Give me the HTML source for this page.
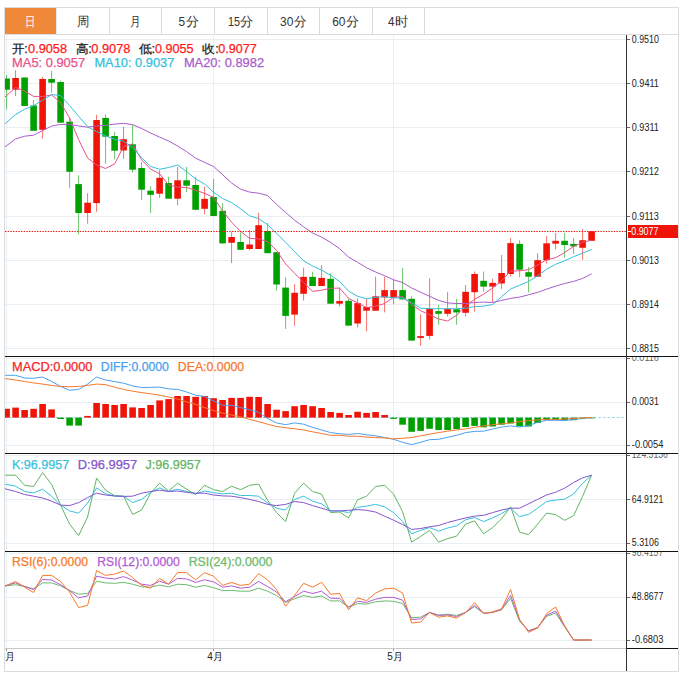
<!DOCTYPE html><html><head><meta charset="utf-8"><style>html,body{margin:0;padding:0;background:#fff;width:680px;height:679px;overflow:hidden}svg{display:block;font-family:"Liberation Sans",sans-serif}</style></head><body>
<svg width="680" height="679" viewBox="0 0 680 679">
<defs><clipPath id="cm"><rect x="5" y="35" width="621" height="321"/></clipPath><clipPath id="cmac"><rect x="5" y="357" width="621" height="96"/></clipPath><clipPath id="ckdj"><rect x="5" y="454" width="621" height="97"/></clipPath><clipPath id="crsi"><rect x="5" y="552" width="621" height="96"/></clipPath><clipPath id="cax"><rect x="627" y="0" width="51" height="679"/></clipPath></defs>
<g shape-rendering="crispEdges">
<rect x="4.5" y="7.5" width="674" height="664" fill="#fff" stroke="#dcdcdc" stroke-width="1"/>
<rect x="5" y="8" width="51" height="26" fill="#f0883a"/>
<line x1="56.5" y1="8" x2="56.5" y2="34" stroke="#e4e8ec" stroke-width="1"/>
<line x1="109.5" y1="8" x2="109.5" y2="34" stroke="#d8d8d8" stroke-width="1"/>
<line x1="161.5" y1="8" x2="161.5" y2="34" stroke="#d8d8d8" stroke-width="1"/>
<line x1="214.0" y1="8" x2="214.0" y2="34" stroke="#d8d8d8" stroke-width="1"/>
<line x1="267.0" y1="8" x2="267.0" y2="34" stroke="#d8d8d8" stroke-width="1"/>
<line x1="319.5" y1="8" x2="319.5" y2="34" stroke="#d8d8d8" stroke-width="1"/>
<line x1="372.0" y1="8" x2="372.0" y2="34" stroke="#d8d8d8" stroke-width="1"/>
<line x1="424.5" y1="8" x2="424.5" y2="34" stroke="#d8d8d8" stroke-width="1"/>
<line x1="5" y1="34.5" x2="678" y2="34.5" stroke="#dcdcdc" stroke-width="1"/>
</g>
<text x="25.2" y="26.0" font-size="12.5" fill="#fff" textLength="10.3" lengthAdjust="spacingAndGlyphs">日</text>
<text x="76.9" y="26.0" font-size="12.5" fill="#333" textLength="12.4" lengthAdjust="spacingAndGlyphs">周</text>
<text x="129.9" y="26.0" font-size="12.5" fill="#333" textLength="10.6" lengthAdjust="spacingAndGlyphs">月</text>
<text x="178.5" y="26.0" font-size="13" fill="#333" textLength="6.6" lengthAdjust="spacingAndGlyphs">5</text>
<text x="185.5" y="26.0" font-size="12.5" fill="#333" textLength="13.0" lengthAdjust="spacingAndGlyphs">分</text>
<text x="228.0" y="26.0" font-size="13" fill="#333" textLength="12.0" lengthAdjust="spacingAndGlyphs">15</text>
<text x="240.0" y="26.0" font-size="12.5" fill="#333" textLength="13.1" lengthAdjust="spacingAndGlyphs">分</text>
<text x="280.1" y="26.0" font-size="13" fill="#333" textLength="13.3" lengthAdjust="spacingAndGlyphs">30</text>
<text x="294.2" y="26.0" font-size="12.5" fill="#333" textLength="12.5" lengthAdjust="spacingAndGlyphs">分</text>
<text x="332.2" y="26.0" font-size="13" fill="#333" textLength="13.3" lengthAdjust="spacingAndGlyphs">60</text>
<text x="346.3" y="26.0" font-size="12.5" fill="#333" textLength="13.0" lengthAdjust="spacingAndGlyphs">分</text>
<text x="388.0" y="26.0" font-size="13" fill="#333" textLength="6.5" lengthAdjust="spacingAndGlyphs">4</text>
<text x="395.0" y="26.0" font-size="12.5" fill="#333" textLength="13.4" lengthAdjust="spacingAndGlyphs">时</text>
<g shape-rendering="crispEdges" stroke="#e8eff4" stroke-width="1">
<line x1="5" y1="39.5" x2="626" y2="39.5"/>
<line x1="5" y1="83.5" x2="626" y2="83.5"/>
<line x1="5" y1="127.5" x2="626" y2="127.5"/>
<line x1="5" y1="171.5" x2="626" y2="171.5"/>
<line x1="5" y1="216.5" x2="626" y2="216.5"/>
<line x1="5" y1="260.5" x2="626" y2="260.5"/>
<line x1="5" y1="304.5" x2="626" y2="304.5"/>
<line x1="5" y1="348.5" x2="626" y2="348.5"/>
<line x1="5" y1="358.5" x2="626" y2="358.5"/>
<line x1="5" y1="402.5" x2="626" y2="402.5"/>
<line x1="5" y1="445.5" x2="626" y2="445.5"/>
<line x1="5" y1="455.5" x2="626" y2="455.5"/>
<line x1="5" y1="499.5" x2="626" y2="499.5"/>
<line x1="5" y1="543.5" x2="626" y2="543.5"/>
<line x1="5" y1="553.5" x2="626" y2="553.5"/>
<line x1="5" y1="597.5" x2="626" y2="597.5"/>
<line x1="5" y1="640.5" x2="626" y2="640.5"/>
<line x1="6.5" y1="35" x2="6.5" y2="648"/>
<line x1="213.5" y1="35" x2="213.5" y2="648"/>
<line x1="393.5" y1="35" x2="393.5" y2="648"/>
</g>
<g clip-path="url(#cm)">
<line x1="6.6" y1="75.0" x2="6.6" y2="109.5" stroke="#00a000" stroke-width="1" stroke-opacity="0.6"/>
<rect x="3.30" y="78.5" width="6.6" height="11.2" fill="#00a000"/>
<line x1="15.6" y1="70.2" x2="15.6" y2="96.2" stroke="#f01408" stroke-width="1" stroke-opacity="0.6"/>
<rect x="12.30" y="78.0" width="6.6" height="11.7" fill="#f01408"/>
<line x1="24.6" y1="77.5" x2="24.6" y2="106.0" stroke="#00a000" stroke-width="1" stroke-opacity="0.6"/>
<rect x="21.30" y="77.5" width="6.6" height="28.5" fill="#00a000"/>
<line x1="33.6" y1="100.0" x2="33.6" y2="130.8" stroke="#00a000" stroke-width="1" stroke-opacity="0.6"/>
<rect x="30.30" y="105.5" width="6.6" height="25.3" fill="#00a000"/>
<line x1="42.6" y1="76.8" x2="42.6" y2="138.6" stroke="#f01408" stroke-width="1" stroke-opacity="0.6"/>
<rect x="39.30" y="79.0" width="6.6" height="50.8" fill="#f01408"/>
<line x1="51.6" y1="70.9" x2="51.6" y2="92.7" stroke="#00a000" stroke-width="1" stroke-opacity="0.6"/>
<rect x="48.30" y="79.0" width="6.6" height="3.7" fill="#00a000"/>
<line x1="60.6" y1="80.5" x2="60.6" y2="122.7" stroke="#00a000" stroke-width="1" stroke-opacity="0.6"/>
<rect x="57.30" y="82.0" width="6.6" height="40.7" fill="#00a000"/>
<line x1="69.6" y1="118.0" x2="69.6" y2="188.2" stroke="#00a000" stroke-width="1" stroke-opacity="0.6"/>
<rect x="66.30" y="121.7" width="6.6" height="50.1" fill="#00a000"/>
<line x1="78.6" y1="175.3" x2="78.6" y2="234.4" stroke="#00a000" stroke-width="1" stroke-opacity="0.6"/>
<rect x="75.30" y="184.1" width="6.6" height="28.9" fill="#00a000"/>
<line x1="87.6" y1="193.2" x2="87.6" y2="223.7" stroke="#f01408" stroke-width="1" stroke-opacity="0.6"/>
<rect x="84.30" y="202.7" width="6.6" height="10.3" fill="#f01408"/>
<line x1="96.6" y1="114.8" x2="96.6" y2="211.8" stroke="#f01408" stroke-width="1" stroke-opacity="0.6"/>
<rect x="93.30" y="120.0" width="6.6" height="83.1" fill="#f01408"/>
<line x1="105.6" y1="114.4" x2="105.6" y2="163.5" stroke="#00a000" stroke-width="1" stroke-opacity="0.6"/>
<rect x="102.30" y="117.9" width="6.6" height="18.8" fill="#00a000"/>
<line x1="114.6" y1="132.0" x2="114.6" y2="159.4" stroke="#00a000" stroke-width="1" stroke-opacity="0.6"/>
<rect x="111.30" y="136.0" width="6.6" height="14.7" fill="#00a000"/>
<line x1="123.6" y1="126.8" x2="123.6" y2="158.8" stroke="#f01408" stroke-width="1" stroke-opacity="0.6"/>
<rect x="120.30" y="139.2" width="6.6" height="11.3" fill="#f01408"/>
<line x1="132.6" y1="124.7" x2="132.6" y2="172.6" stroke="#00a000" stroke-width="1" stroke-opacity="0.6"/>
<rect x="129.30" y="144.3" width="6.6" height="25.4" fill="#00a000"/>
<line x1="141.6" y1="161.9" x2="141.6" y2="200.0" stroke="#00a000" stroke-width="1" stroke-opacity="0.6"/>
<rect x="138.30" y="168.0" width="6.6" height="21.7" fill="#00a000"/>
<line x1="150.6" y1="186.2" x2="150.6" y2="213.0" stroke="#00a000" stroke-width="1" stroke-opacity="0.6"/>
<rect x="147.30" y="190.7" width="6.6" height="4.1" fill="#00a000"/>
<line x1="159.6" y1="170.2" x2="159.6" y2="197.8" stroke="#f01408" stroke-width="1" stroke-opacity="0.6"/>
<rect x="156.30" y="177.8" width="6.6" height="15.9" fill="#f01408"/>
<line x1="168.6" y1="176.8" x2="168.6" y2="198.7" stroke="#00a000" stroke-width="1" stroke-opacity="0.6"/>
<rect x="165.30" y="183.0" width="6.6" height="15.7" fill="#00a000"/>
<line x1="177.6" y1="166.9" x2="177.6" y2="205.3" stroke="#f01408" stroke-width="1" stroke-opacity="0.6"/>
<rect x="174.30" y="180.3" width="6.6" height="18.4" fill="#f01408"/>
<line x1="186.6" y1="166.9" x2="186.6" y2="192.3" stroke="#00a000" stroke-width="1" stroke-opacity="0.6"/>
<rect x="183.30" y="180.3" width="6.6" height="5.4" fill="#00a000"/>
<line x1="195.6" y1="176.8" x2="195.6" y2="210.0" stroke="#00a000" stroke-width="1" stroke-opacity="0.6"/>
<rect x="192.30" y="185.0" width="6.6" height="24.8" fill="#00a000"/>
<line x1="204.6" y1="186.7" x2="204.6" y2="214.3" stroke="#f01408" stroke-width="1" stroke-opacity="0.6"/>
<rect x="201.30" y="198.9" width="6.6" height="9.9" fill="#f01408"/>
<line x1="213.6" y1="178.9" x2="213.6" y2="216.0" stroke="#00a000" stroke-width="1" stroke-opacity="0.6"/>
<rect x="210.30" y="197.0" width="6.6" height="19.0" fill="#00a000"/>
<line x1="222.6" y1="203.2" x2="222.6" y2="243.4" stroke="#00a000" stroke-width="1" stroke-opacity="0.6"/>
<rect x="219.30" y="210.8" width="6.6" height="32.6" fill="#00a000"/>
<line x1="231.6" y1="232.0" x2="231.6" y2="263.0" stroke="#f01408" stroke-width="1" stroke-opacity="0.6"/>
<rect x="228.30" y="237.0" width="6.6" height="5.8" fill="#f01408"/>
<line x1="240.6" y1="232.5" x2="240.6" y2="249.8" stroke="#00a000" stroke-width="1" stroke-opacity="0.6"/>
<rect x="237.30" y="242.0" width="6.6" height="7.8" fill="#00a000"/>
<line x1="249.6" y1="229.9" x2="249.6" y2="250.5" stroke="#f01408" stroke-width="1" stroke-opacity="0.6"/>
<rect x="246.30" y="244.5" width="6.6" height="4.5" fill="#f01408"/>
<line x1="258.6" y1="212.8" x2="258.6" y2="249.0" stroke="#f01408" stroke-width="1" stroke-opacity="0.6"/>
<rect x="255.30" y="225.2" width="6.6" height="23.8" fill="#f01408"/>
<line x1="267.6" y1="223.1" x2="267.6" y2="253.0" stroke="#00a000" stroke-width="1" stroke-opacity="0.6"/>
<rect x="264.30" y="231.0" width="6.6" height="22.2" fill="#00a000"/>
<line x1="276.6" y1="252.0" x2="276.6" y2="290.7" stroke="#00a000" stroke-width="1" stroke-opacity="0.6"/>
<rect x="273.30" y="252.2" width="6.6" height="32.3" fill="#00a000"/>
<line x1="285.6" y1="277.3" x2="285.6" y2="328.9" stroke="#00a000" stroke-width="1" stroke-opacity="0.6"/>
<rect x="282.30" y="287.6" width="6.6" height="28.3" fill="#00a000"/>
<line x1="294.6" y1="284.1" x2="294.6" y2="325.8" stroke="#f01408" stroke-width="1" stroke-opacity="0.6"/>
<rect x="291.30" y="292.8" width="6.6" height="21.8" fill="#f01408"/>
<line x1="303.6" y1="267.6" x2="303.6" y2="300.6" stroke="#f01408" stroke-width="1" stroke-opacity="0.6"/>
<rect x="300.30" y="276.9" width="6.6" height="16.9" fill="#f01408"/>
<line x1="312.6" y1="271.8" x2="312.6" y2="286.0" stroke="#00a000" stroke-width="1" stroke-opacity="0.6"/>
<rect x="309.30" y="276.9" width="6.6" height="9.1" fill="#00a000"/>
<line x1="321.6" y1="265.0" x2="321.6" y2="286.0" stroke="#f01408" stroke-width="1" stroke-opacity="0.6"/>
<rect x="318.30" y="277.9" width="6.6" height="8.1" fill="#f01408"/>
<line x1="330.6" y1="273.2" x2="330.6" y2="303.7" stroke="#00a000" stroke-width="1" stroke-opacity="0.6"/>
<rect x="327.30" y="278.8" width="6.6" height="24.9" fill="#00a000"/>
<line x1="339.6" y1="287.6" x2="339.6" y2="306.6" stroke="#f01408" stroke-width="1" stroke-opacity="0.6"/>
<rect x="336.30" y="301.0" width="6.6" height="2.7" fill="#f01408"/>
<line x1="348.6" y1="298.4" x2="348.6" y2="325.6" stroke="#00a000" stroke-width="1" stroke-opacity="0.6"/>
<rect x="345.30" y="300.8" width="6.6" height="24.8" fill="#00a000"/>
<line x1="357.6" y1="298.4" x2="357.6" y2="327.6" stroke="#f01408" stroke-width="1" stroke-opacity="0.6"/>
<rect x="354.30" y="303.1" width="6.6" height="20.4" fill="#f01408"/>
<line x1="366.6" y1="298.4" x2="366.6" y2="331.3" stroke="#f01408" stroke-width="1" stroke-opacity="0.6"/>
<rect x="363.30" y="307.0" width="6.6" height="3.7" fill="#f01408"/>
<line x1="375.6" y1="276.7" x2="375.6" y2="310.7" stroke="#f01408" stroke-width="1" stroke-opacity="0.6"/>
<rect x="372.30" y="296.3" width="6.6" height="14.4" fill="#f01408"/>
<line x1="384.6" y1="276.7" x2="384.6" y2="312.4" stroke="#f01408" stroke-width="1" stroke-opacity="0.6"/>
<rect x="381.30" y="290.1" width="6.6" height="7.4" fill="#f01408"/>
<line x1="393.6" y1="279.8" x2="393.6" y2="304.1" stroke="#f01408" stroke-width="1" stroke-opacity="0.6"/>
<rect x="390.30" y="290.1" width="6.6" height="7.4" fill="#f01408"/>
<line x1="402.6" y1="268.0" x2="402.6" y2="299.4" stroke="#00a000" stroke-width="1" stroke-opacity="0.6"/>
<rect x="399.30" y="290.1" width="6.6" height="9.3" fill="#00a000"/>
<line x1="411.6" y1="296.3" x2="411.6" y2="340.6" stroke="#00a000" stroke-width="1" stroke-opacity="0.6"/>
<rect x="408.30" y="298.8" width="6.6" height="41.8" fill="#00a000"/>
<line x1="420.6" y1="314.4" x2="420.6" y2="345.8" stroke="#f01408" stroke-width="1" stroke-opacity="0.6"/>
<rect x="417.30" y="336.1" width="6.6" height="1.8" fill="#f01408"/>
<line x1="429.6" y1="278.4" x2="429.6" y2="339.6" stroke="#f01408" stroke-width="1" stroke-opacity="0.6"/>
<rect x="426.30" y="308.7" width="6.6" height="27.2" fill="#f01408"/>
<line x1="438.6" y1="305.0" x2="438.6" y2="324.7" stroke="#00a000" stroke-width="1" stroke-opacity="0.6"/>
<rect x="435.30" y="311.1" width="6.6" height="2.7" fill="#00a000"/>
<line x1="447.6" y1="291.8" x2="447.6" y2="316.5" stroke="#f01408" stroke-width="1" stroke-opacity="0.6"/>
<rect x="444.30" y="309.0" width="6.6" height="4.8" fill="#f01408"/>
<line x1="456.6" y1="298.8" x2="456.6" y2="324.7" stroke="#00a000" stroke-width="1" stroke-opacity="0.6"/>
<rect x="453.30" y="309.3" width="6.6" height="3.1" fill="#00a000"/>
<line x1="465.6" y1="285.0" x2="465.6" y2="316.5" stroke="#f01408" stroke-width="1" stroke-opacity="0.6"/>
<rect x="462.30" y="291.8" width="6.6" height="21.0" fill="#f01408"/>
<line x1="474.6" y1="271.5" x2="474.6" y2="311.8" stroke="#f01408" stroke-width="1" stroke-opacity="0.6"/>
<rect x="471.30" y="274.0" width="6.6" height="18.2" fill="#f01408"/>
<line x1="483.6" y1="271.5" x2="483.6" y2="291.8" stroke="#00a000" stroke-width="1" stroke-opacity="0.6"/>
<rect x="480.30" y="280.8" width="6.6" height="5.8" fill="#00a000"/>
<line x1="492.6" y1="278.8" x2="492.6" y2="302.5" stroke="#f01408" stroke-width="1" stroke-opacity="0.6"/>
<rect x="489.30" y="282.9" width="6.6" height="3.7" fill="#f01408"/>
<line x1="501.6" y1="255.0" x2="501.6" y2="289.0" stroke="#f01408" stroke-width="1" stroke-opacity="0.6"/>
<rect x="498.30" y="273.0" width="6.6" height="10.5" fill="#f01408"/>
<line x1="510.6" y1="238.1" x2="510.6" y2="276.7" stroke="#f01408" stroke-width="1" stroke-opacity="0.6"/>
<rect x="507.30" y="243.1" width="6.6" height="30.9" fill="#f01408"/>
<line x1="519.6" y1="240.2" x2="519.6" y2="277.3" stroke="#00a000" stroke-width="1" stroke-opacity="0.6"/>
<rect x="516.30" y="243.9" width="6.6" height="25.8" fill="#00a000"/>
<line x1="528.6" y1="267.0" x2="528.6" y2="292.4" stroke="#00a000" stroke-width="1" stroke-opacity="0.6"/>
<rect x="525.30" y="272.2" width="6.6" height="4.5" fill="#00a000"/>
<line x1="537.6" y1="253.2" x2="537.6" y2="276.7" stroke="#f01408" stroke-width="1" stroke-opacity="0.6"/>
<rect x="534.30" y="260.2" width="6.6" height="16.5" fill="#f01408"/>
<line x1="546.6" y1="236.1" x2="546.6" y2="263.5" stroke="#f01408" stroke-width="1" stroke-opacity="0.6"/>
<rect x="543.30" y="243.3" width="6.6" height="16.9" fill="#f01408"/>
<line x1="555.6" y1="233.0" x2="555.6" y2="249.5" stroke="#f01408" stroke-width="1" stroke-opacity="0.6"/>
<rect x="552.30" y="240.8" width="6.6" height="2.9" fill="#f01408"/>
<line x1="564.6" y1="233.0" x2="564.6" y2="257.7" stroke="#00a000" stroke-width="1" stroke-opacity="0.6"/>
<rect x="561.30" y="240.8" width="6.6" height="4.2" fill="#00a000"/>
<line x1="573.6" y1="238.1" x2="573.6" y2="254.0" stroke="#00a000" stroke-width="1" stroke-opacity="0.6"/>
<rect x="570.30" y="243.9" width="6.6" height="2.5" fill="#00a000"/>
<line x1="582.6" y1="228.9" x2="582.6" y2="259.8" stroke="#f01408" stroke-width="1" stroke-opacity="0.6"/>
<rect x="579.30" y="240.2" width="6.6" height="7.6" fill="#f01408"/>
<line x1="591.6" y1="231.0" x2="591.6" y2="241.0" stroke="#f01408" stroke-width="1" stroke-opacity="0.6"/>
<rect x="588.30" y="231.3" width="6.6" height="9.5" fill="#f01408"/>
<polyline points="4,97.8 6.6,95.5 15.6,87.5 24.6,91.0 33.6,96.4 42.6,96.5 51.6,95.0 60.6,102.5 69.6,118.0 78.6,139.6 87.6,158.0 96.6,165.0 105.6,168.5 114.6,163.9 123.6,146.4 132.6,143.9 141.6,159.8 150.6,169.1 159.6,173.8 168.6,185.0 177.6,187.1 186.6,187.5 195.6,190.2 204.6,193.3 213.6,197.4 222.6,210.8 231.6,222.2 240.6,231.4 249.6,238.4 258.6,238.8 267.6,241.6 276.6,250.5 285.6,263.9 294.6,273.2 303.6,282.5 312.6,291.4 321.6,290.2 330.6,288.3 339.6,288.1 348.6,298.4 357.6,302.9 366.6,307.6 375.6,306.2 384.6,303.5 393.6,297.3 402.6,296.7 411.6,304.5 420.6,310.7 429.6,314.8 438.6,319.0 447.6,321.0 456.6,315.3 465.6,305.6 474.6,299.4 483.6,294.2 492.6,288.0 501.6,280.8 510.6,271.1 519.6,270.8 528.6,269.7 537.6,265.0 546.6,259.8 555.6,257.7 564.6,252.6 573.6,246.4 582.6,242.3 591.6,240.2" fill="none" stroke="#e9518a" stroke-width="1"/>
<polyline points="4,124.7 6.6,122.4 15.6,114.5 24.6,109.3 33.6,105.7 42.6,100.2 51.6,94.6 60.6,95.5 69.6,105.5 78.6,116.2 87.6,126.7 96.6,131.6 105.6,136.0 114.6,139.2 123.6,141.2 132.6,147.4 141.6,157.7 150.6,166.4 159.6,169.3 168.6,167.5 177.6,165.0 186.6,171.6 195.6,178.9 204.6,184.0 213.6,192.3 222.6,198.5 231.6,202.6 240.6,208.8 249.6,215.8 258.6,218.6 267.6,224.7 276.6,233.4 285.6,242.3 294.6,251.5 303.6,260.8 312.6,266.0 321.6,270.1 330.6,275.3 339.6,281.4 348.6,291.1 357.6,296.3 366.6,298.8 375.6,297.3 384.6,296.7 393.6,297.9 402.6,297.9 411.6,302.5 420.6,308.2 429.6,308.7 438.6,308.7 447.6,308.7 456.6,308.7 465.6,308.2 474.6,306.6 483.6,306.2 492.6,304.5 501.6,296.7 510.6,289.1 519.6,285.2 528.6,281.4 537.6,275.9 546.6,269.1 555.6,264.3 564.6,260.8 573.6,256.7 582.6,253.2 591.6,249.5" fill="none" stroke="#36bfdc" stroke-width="1"/>
<polyline points="4,147.6 6.6,145.7 15.6,139.0 24.6,136.2 33.6,135.2 42.6,130.6 51.6,126.1 60.6,124.4 69.6,124.5 78.6,125.9 87.6,127.2 96.6,125.9 105.6,125.4 114.6,124.1 123.6,123.3 132.6,124.7 141.6,128.5 150.6,133.0 159.6,137.1 168.6,141.0 177.6,146.0 186.6,151.6 195.6,158.2 204.6,162.4 213.6,166.5 222.6,174.7 231.6,183.0 240.6,189.2 249.6,192.1 258.6,193.2 267.6,195.5 276.6,204.5 285.6,212.4 294.6,220.2 303.6,226.8 312.6,233.0 321.6,237.1 330.6,242.3 339.6,248.7 348.6,257.1 357.6,262.3 366.6,267.8 375.6,272.0 384.6,275.7 393.6,279.8 402.6,282.5 411.6,288.0 420.6,292.2 429.6,296.3 438.6,300.4 447.6,302.9 456.6,303.5 465.6,303.5 474.6,302.5 483.6,302.1 492.6,302.5 501.6,300.4 510.6,298.4 519.6,297.1 528.6,294.8 537.6,292.4 546.6,289.1 555.6,286.2 564.6,283.5 573.6,281.4 582.6,278.4 591.6,273.8" fill="none" stroke="#ab5ccb" stroke-width="1"/>
<line x1="5" y1="231.5" x2="626" y2="231.5" stroke="#f01408" stroke-width="1" stroke-dasharray="1.4 1.27"/>
</g>
<text x="11.7" y="53.0" font-size="12" fill="#222" stroke="#222" stroke-width="0.25" textLength="16.0" lengthAdjust="spacingAndGlyphs">开:</text>
<text x="28.1" y="53.0" font-size="12" fill="#ff1a1a" stroke="#ff1a1a" stroke-width="0.25" textLength="38.9" lengthAdjust="spacingAndGlyphs">0.9058</text>
<text x="75.5" y="53.0" font-size="12" fill="#222" stroke="#222" stroke-width="0.25" textLength="16.2" lengthAdjust="spacingAndGlyphs">高:</text>
<text x="91.3" y="53.0" font-size="12" fill="#ff1a1a" stroke="#ff1a1a" stroke-width="0.25" textLength="39.1" lengthAdjust="spacingAndGlyphs">0.9078</text>
<text x="138.6" y="53.0" font-size="12" fill="#222" stroke="#222" stroke-width="0.25" textLength="16.6" lengthAdjust="spacingAndGlyphs">低:</text>
<text x="155.0" y="53.0" font-size="12" fill="#ff1a1a" stroke="#ff1a1a" stroke-width="0.25" textLength="38.5" lengthAdjust="spacingAndGlyphs">0.9055</text>
<text x="202.4" y="53.0" font-size="12" fill="#222" stroke="#222" stroke-width="0.25" textLength="16.3" lengthAdjust="spacingAndGlyphs">收:</text>
<text x="218.2" y="53.0" font-size="12" fill="#ff1a1a" stroke="#ff1a1a" stroke-width="0.25" textLength="38.5" lengthAdjust="spacingAndGlyphs">0.9077</text>
<text x="12.1" y="67.0" font-size="12" fill="#e9518a" stroke="#e9518a" stroke-width="0.25" textLength="73.0" lengthAdjust="spacingAndGlyphs">MA5: 0.9057</text>
<text x="94.4" y="67.0" font-size="12" fill="#36bfdc" stroke="#36bfdc" stroke-width="0.25" textLength="79.9" lengthAdjust="spacingAndGlyphs">MA10: 0.9037</text>
<text x="183.9" y="67.0" font-size="12" fill="#ab5ccb" stroke="#ab5ccb" stroke-width="0.25" textLength="80.2" lengthAdjust="spacingAndGlyphs">MA20: 0.8982</text>
<g clip-path="url(#cmac)">
<line x1="5" y1="417.5" x2="626" y2="417.5" stroke="#9ad6f0" stroke-width="1" stroke-dasharray="2.6 2"/>
<rect x="3.30" y="408.8" width="6.6" height="8.8" fill="#f01408"/>
<rect x="12.30" y="407.6" width="6.6" height="10.0" fill="#f01408"/>
<rect x="21.30" y="410.0" width="6.6" height="7.6" fill="#f01408"/>
<rect x="30.30" y="408.8" width="6.6" height="8.8" fill="#f01408"/>
<rect x="39.30" y="404.0" width="6.6" height="13.6" fill="#f01408"/>
<rect x="48.30" y="409.4" width="6.6" height="8.2" fill="#f01408"/>
<rect x="57.30" y="417.6" width="6.6" height="1.4" fill="#00a000"/>
<rect x="66.30" y="417.6" width="6.6" height="8.0" fill="#00a000"/>
<rect x="75.30" y="417.6" width="6.6" height="8.0" fill="#00a000"/>
<rect x="84.30" y="415.9" width="6.6" height="1.7" fill="#f01408"/>
<rect x="93.30" y="403.0" width="6.6" height="14.6" fill="#f01408"/>
<rect x="102.30" y="404.0" width="6.6" height="13.6" fill="#f01408"/>
<rect x="111.30" y="405.0" width="6.6" height="12.6" fill="#f01408"/>
<rect x="120.30" y="404.0" width="6.6" height="13.6" fill="#f01408"/>
<rect x="129.30" y="407.4" width="6.6" height="10.2" fill="#f01408"/>
<rect x="138.30" y="408.0" width="6.6" height="9.6" fill="#f01408"/>
<rect x="147.30" y="405.0" width="6.6" height="12.6" fill="#f01408"/>
<rect x="156.30" y="400.4" width="6.6" height="17.2" fill="#f01408"/>
<rect x="165.30" y="399.1" width="6.6" height="18.5" fill="#f01408"/>
<rect x="174.30" y="396.0" width="6.6" height="21.6" fill="#f01408"/>
<rect x="183.30" y="396.0" width="6.6" height="21.6" fill="#f01408"/>
<rect x="192.30" y="396.8" width="6.6" height="20.8" fill="#f01408"/>
<rect x="201.30" y="396.0" width="6.6" height="21.6" fill="#f01408"/>
<rect x="210.30" y="398.2" width="6.6" height="19.4" fill="#f01408"/>
<rect x="219.30" y="400.0" width="6.6" height="17.6" fill="#f01408"/>
<rect x="228.30" y="397.9" width="6.6" height="19.7" fill="#f01408"/>
<rect x="237.30" y="397.9" width="6.6" height="19.7" fill="#f01408"/>
<rect x="246.30" y="396.8" width="6.6" height="20.8" fill="#f01408"/>
<rect x="255.30" y="397.0" width="6.6" height="20.6" fill="#f01408"/>
<rect x="264.30" y="404.0" width="6.6" height="13.6" fill="#f01408"/>
<rect x="273.30" y="409.7" width="6.6" height="7.9" fill="#f01408"/>
<rect x="282.30" y="411.1" width="6.6" height="6.5" fill="#f01408"/>
<rect x="291.30" y="406.2" width="6.6" height="11.4" fill="#f01408"/>
<rect x="300.30" y="405.0" width="6.6" height="12.6" fill="#f01408"/>
<rect x="309.30" y="406.2" width="6.6" height="11.4" fill="#f01408"/>
<rect x="318.30" y="408.0" width="6.6" height="9.6" fill="#f01408"/>
<rect x="327.30" y="412.0" width="6.6" height="5.6" fill="#f01408"/>
<rect x="336.30" y="412.9" width="6.6" height="4.7" fill="#f01408"/>
<rect x="345.30" y="415.0" width="6.6" height="2.6" fill="#f01408"/>
<rect x="354.30" y="411.8" width="6.6" height="5.8" fill="#f01408"/>
<rect x="363.30" y="412.9" width="6.6" height="4.7" fill="#f01408"/>
<rect x="372.30" y="412.0" width="6.6" height="5.6" fill="#f01408"/>
<rect x="381.30" y="415.0" width="6.6" height="2.6" fill="#f01408"/>
<rect x="390.30" y="417.6" width="6.6" height="1.3" fill="#00a000"/>
<rect x="399.30" y="417.6" width="6.6" height="7.1" fill="#00a000"/>
<rect x="408.30" y="417.6" width="6.6" height="14.2" fill="#00a000"/>
<rect x="417.30" y="417.6" width="6.6" height="13.3" fill="#00a000"/>
<rect x="426.30" y="417.6" width="6.6" height="11.2" fill="#00a000"/>
<rect x="435.30" y="417.6" width="6.6" height="12.4" fill="#00a000"/>
<rect x="444.30" y="417.6" width="6.6" height="12.4" fill="#00a000"/>
<rect x="453.30" y="417.6" width="6.6" height="11.5" fill="#00a000"/>
<rect x="462.30" y="417.6" width="6.6" height="9.4" fill="#00a000"/>
<rect x="471.30" y="417.6" width="6.6" height="8.3" fill="#00a000"/>
<rect x="480.30" y="417.6" width="6.6" height="9.7" fill="#00a000"/>
<rect x="489.30" y="417.6" width="6.6" height="8.9" fill="#00a000"/>
<rect x="498.30" y="417.6" width="6.6" height="7.1" fill="#00a000"/>
<rect x="507.30" y="417.6" width="6.6" height="5.9" fill="#00a000"/>
<rect x="516.30" y="417.6" width="6.6" height="8.9" fill="#00a000"/>
<rect x="525.30" y="417.6" width="6.6" height="8.9" fill="#00a000"/>
<rect x="534.30" y="417.6" width="6.6" height="5.3" fill="#00a000"/>
<rect x="543.30" y="417.6" width="6.6" height="2.4" fill="#00a000"/>
<rect x="552.30" y="417.6" width="6.6" height="2.3" fill="#00a000"/>
<rect x="561.30" y="417.6" width="6.6" height="2.6" fill="#00a000"/>
<rect x="570.30" y="417.6" width="6.6" height="2.6" fill="#00a000"/>
<rect x="579.30" y="417.6" width="6.6" height="0.8" fill="#00a000"/>
<rect x="588.30" y="417.6" width="6.6" height="0.8" fill="#00a000"/>
<polyline points="4,375.3 6.6,375.3 15.6,375.3 24.6,378.0 33.6,378.3 42.6,377.0 51.6,381.5 60.6,386.4 69.6,390.3 78.6,389.4 87.6,384.1 96.6,377.0 105.6,380.0 114.6,381.6 123.6,383.2 132.6,385.9 141.6,387.6 150.6,387.3 159.6,387.1 168.6,388.9 177.6,389.4 186.6,392.0 195.6,395.2 204.6,396.5 213.6,400.9 222.6,405.3 231.6,405.3 240.6,407.6 249.6,409.7 258.6,412.3 267.6,418.5 276.6,422.9 285.6,424.7 294.6,422.9 303.6,424.2 312.6,427.3 321.6,430.0 330.6,432.6 339.6,433.7 348.6,434.4 357.6,433.5 366.6,434.8 375.6,435.8 384.6,437.6 393.6,439.3 402.6,442.3 411.6,444.6 420.6,442.3 429.6,439.7 438.6,439.3 447.6,437.3 456.6,435.3 465.6,432.6 474.6,431.4 483.6,431.2 492.6,429.1 501.6,427.0 510.6,425.9 519.6,427.0 528.6,425.6 537.6,422.4 546.6,420.3 555.6,420.3 564.6,420.5 573.6,419.5 582.6,418.5 591.6,417.5" fill="none" stroke="#4a9ff0" stroke-width="1"/>
<polyline points="4,378.5 6.6,378.8 15.6,380.0 24.6,381.5 33.6,382.9 42.6,384.1 51.6,385.4 60.6,386.4 69.6,386.8 78.6,386.4 87.6,385.4 96.6,384.1 105.6,384.6 114.6,387.2 123.6,389.4 132.6,391.2 141.6,392.6 150.6,393.8 159.6,395.2 168.6,397.0 177.6,399.1 186.6,401.8 195.6,404.4 204.6,407.6 213.6,410.6 222.6,413.2 231.6,415.0 240.6,416.8 249.6,419.4 258.6,421.7 267.6,424.2 276.6,426.5 285.6,427.7 294.6,428.8 303.6,430.0 312.6,431.8 321.6,433.5 330.6,435.3 339.6,435.3 348.6,436.2 357.6,436.2 366.6,437.1 375.6,437.6 384.6,437.9 393.6,438.8 402.6,438.3 411.6,437.6 420.6,435.8 429.6,434.1 438.6,432.6 447.6,431.2 456.6,430.0 465.6,428.8 474.6,427.3 483.6,425.9 492.6,424.7 501.6,423.8 510.6,422.9 519.6,421.7 528.6,420.6 537.6,419.9 546.6,419.4 555.6,419.4 564.6,419.0 573.6,418.5 582.6,418.0 591.6,417.5" fill="none" stroke="#f5782d" stroke-width="1"/>
</g>
<text x="12.0" y="371.0" font-size="12" fill="#f42828" stroke="#f42828" stroke-width="0.25" textLength="80.5" lengthAdjust="spacingAndGlyphs">MACD:0.0000</text>
<text x="100.8" y="371.0" font-size="12" fill="#4a9ff0" stroke="#4a9ff0" stroke-width="0.25" textLength="68.1" lengthAdjust="spacingAndGlyphs">DIFF:0.0000</text>
<text x="177.8" y="371.0" font-size="12" fill="#f5782d" stroke="#f5782d" stroke-width="0.25" textLength="66.4" lengthAdjust="spacingAndGlyphs">DEA:0.0000</text>
<g clip-path="url(#ckdj)">
<polyline points="4,475.2 6.6,475.2 15.6,475.2 24.6,485.3 33.6,486.5 42.6,472.6 51.6,484.4 60.6,505.1 69.6,524.1 78.6,535.6 87.6,517.0 96.6,478.2 105.6,490.2 114.6,495.7 123.6,496.2 132.6,514.4 141.6,510.0 150.6,493.2 159.6,483.2 168.6,491.0 177.6,483.2 186.6,489.2 195.6,494.5 204.6,485.3 213.6,489.7 222.6,491.5 231.6,486.2 240.6,489.7 249.6,485.3 258.6,484.1 267.6,500.3 276.6,512.6 285.6,521.5 294.6,493.2 303.6,483.2 312.6,491.5 321.6,494.1 330.6,512.6 339.6,512.0 348.6,517.9 357.6,499.8 366.6,496.2 375.6,486.5 384.6,485.3 393.6,494.1 402.6,511.8 411.6,542.1 420.6,536.5 429.6,530.3 438.6,542.1 447.6,538.6 456.6,536.1 465.6,524.1 474.6,520.9 483.6,533.8 492.6,527.6 501.6,518.8 510.6,506.8 519.6,532.1 528.6,534.7 537.6,524.1 546.6,513.1 555.6,514.6 564.6,520.3 573.6,515.7 582.6,496.4 591.6,475.2" fill="none" stroke="#62b462" stroke-width="1"/>
<polyline points="4,483.9 6.6,484.4 15.6,486.2 24.6,491.5 33.6,492.9 42.6,489.2 51.6,496.2 60.6,505.1 69.6,510.9 78.6,513.2 87.6,502.9 96.6,487.9 105.6,493.8 114.6,496.0 123.6,496.2 132.6,502.6 141.6,499.4 150.6,492.4 159.6,487.9 168.6,491.5 177.6,489.2 186.6,491.5 195.6,493.8 204.6,491.0 213.6,492.7 222.6,493.8 231.6,493.2 240.6,495.5 249.6,495.5 258.6,496.2 267.6,502.9 276.6,508.2 285.6,510.0 294.6,499.4 303.6,496.2 312.6,501.2 321.6,503.8 330.6,510.9 339.6,510.9 348.6,512.6 357.6,507.3 366.6,506.1 375.6,504.4 384.6,506.8 393.6,512.6 402.6,521.5 411.6,533.8 420.6,530.3 429.6,527.6 438.6,531.2 447.6,528.0 456.6,525.9 465.6,519.7 474.6,517.6 483.6,521.5 492.6,517.9 501.6,513.5 510.6,508.2 519.6,516.7 528.6,514.4 537.6,508.2 546.6,501.5 555.6,500.0 564.6,499.2 573.6,494.0 582.6,483.2 591.6,475.2" fill="none" stroke="#38c0dc" stroke-width="1"/>
<polyline points="4,488.5 6.6,489.2 15.6,491.5 24.6,494.5 33.6,496.2 42.6,498.0 51.6,501.2 60.6,505.1 69.6,505.6 78.6,502.6 87.6,497.6 96.6,493.2 105.6,495.0 114.6,496.0 123.6,496.4 132.6,496.2 141.6,493.2 150.6,491.5 159.6,490.2 168.6,491.5 177.6,491.0 186.6,492.4 195.6,493.2 204.6,493.2 213.6,495.0 222.6,495.9 231.6,496.2 240.6,497.6 249.6,499.4 258.6,501.5 267.6,504.4 276.6,505.6 285.6,504.4 294.6,501.5 303.6,502.6 312.6,505.6 321.6,508.2 330.6,510.9 339.6,510.9 348.6,510.3 357.6,509.6 366.6,510.3 375.6,512.1 384.6,516.2 393.6,520.2 402.6,524.5 411.6,529.4 420.6,528.5 429.6,526.8 438.6,525.5 447.6,522.5 456.6,520.2 465.6,517.9 474.6,516.2 483.6,515.3 492.6,512.6 501.6,510.0 510.6,508.2 519.6,508.2 528.6,503.8 537.6,499.4 546.6,495.0 555.6,492.2 564.6,488.2 573.6,482.5 582.6,477.8 591.6,475.2" fill="none" stroke="#8655cc" stroke-width="1"/>
</g>
<text x="12.0" y="468.5" font-size="12" fill="#38c0dc" stroke="#38c0dc" stroke-width="0.25" textLength="57.2" lengthAdjust="spacingAndGlyphs">K:96.9957</text>
<text x="77.8" y="468.5" font-size="12" fill="#8655cc" stroke="#8655cc" stroke-width="0.25" textLength="59.4" lengthAdjust="spacingAndGlyphs">D:96.9957</text>
<text x="145.5" y="468.5" font-size="12" fill="#62b462" stroke="#62b462" stroke-width="0.25" textLength="55.2" lengthAdjust="spacingAndGlyphs">J:96.9957</text>
<g clip-path="url(#crsi)">
<polyline points="4,586.2 6.6,585.9 15.6,584.7 24.6,586.5 33.6,588.9 42.6,582.9 51.6,582.9 60.6,585.9 69.6,590.4 78.6,594.2 87.6,593.5 96.6,581.2 105.6,582.9 114.6,583.3 123.6,582.4 132.6,584.2 141.6,586.8 150.6,587.2 159.6,585.1 168.6,586.8 177.6,584.2 186.6,584.7 195.6,587.2 204.6,585.4 213.6,587.7 222.6,590.7 231.6,590.4 240.6,591.2 249.6,591.2 258.6,588.2 267.6,591.2 276.6,595.6 285.6,602.4 294.6,598.8 303.6,595.6 312.6,597.4 321.6,596.0 330.6,600.9 339.6,600.9 348.6,607.1 357.6,603.6 366.6,604.1 375.6,601.8 384.6,600.9 393.6,601.3 402.6,603.6 411.6,617.7 420.6,617.2 429.6,612.4 438.6,615.1 447.6,614.2 456.6,615.4 465.6,612.4 474.6,606.6 483.6,613.3 492.6,612.4 501.6,609.8 510.6,598.3 519.6,621.2 528.6,630.9 537.6,627.4 546.6,616.4 555.6,612.9 564.6,626.8 573.6,640.0 582.6,640.0 591.6,640.0" fill="none" stroke="#6cba6c" stroke-width="1"/>
<polyline points="4,586.1 6.6,585.4 15.6,582.9 24.6,586.5 33.6,589.5 42.6,579.4 51.6,580.1 60.6,584.7 69.6,590.7 78.6,597.8 87.6,596.0 96.6,576.2 105.6,578.0 114.6,579.0 123.6,576.6 132.6,580.1 141.6,584.2 150.6,585.4 159.6,581.2 168.6,584.2 177.6,578.4 186.6,578.9 195.6,582.4 204.6,579.8 213.6,581.9 222.6,587.2 231.6,585.9 240.6,588.2 249.6,587.2 258.6,581.5 267.6,586.5 276.6,592.1 285.6,601.8 294.6,596.5 303.6,591.2 312.6,593.5 321.6,591.2 330.6,598.3 339.6,598.3 348.6,607.1 357.6,601.3 366.6,602.4 375.6,599.2 384.6,597.4 393.6,597.4 402.6,600.1 411.6,619.5 420.6,618.9 429.6,612.4 438.6,615.4 447.6,615.0 456.6,616.5 465.6,612.4 474.6,605.4 483.6,613.3 492.6,612.4 501.6,609.4 510.6,595.3 519.6,620.3 528.6,630.9 537.6,627.8 546.6,615.3 555.6,611.1 564.6,626.2 573.6,640.0 582.6,640.0 591.6,640.0" fill="none" stroke="#b05ad2" stroke-width="1"/>
<polyline points="4,586.5 6.6,585.4 15.6,581.5 24.6,587.2 33.6,592.5 42.6,575.4 51.6,575.4 60.6,581.5 69.6,592.1 78.6,607.6 87.6,605.3 96.6,570.6 105.6,575.4 114.6,574.1 123.6,571.0 132.6,577.6 141.6,585.4 150.6,588.2 159.6,578.4 168.6,584.2 177.6,572.4 186.6,572.7 195.6,579.8 204.6,572.7 213.6,576.2 222.6,585.4 231.6,582.4 240.6,585.4 249.6,584.2 258.6,573.6 267.6,579.8 276.6,589.5 285.6,606.2 294.6,595.3 303.6,583.3 312.6,587.2 321.6,582.4 330.6,594.2 339.6,593.5 348.6,609.8 357.6,597.8 366.6,600.6 375.6,593.0 384.6,588.9 393.6,588.2 402.6,593.0 411.6,623.0 420.6,622.1 429.6,612.4 438.6,617.2 447.6,615.9 456.6,618.2 465.6,612.4 474.6,602.7 483.6,613.3 492.6,611.9 501.6,608.9 510.6,589.5 519.6,619.5 528.6,632.3 537.6,628.1 546.6,613.7 555.6,607.0 564.6,625.8 573.6,640.0 582.6,640.0 591.6,640.0" fill="none" stroke="#f77a2a" stroke-width="1"/>
</g>
<text x="12.0" y="565.6" font-size="12" fill="#f77a2a" stroke="#f77a2a" stroke-width="0.25" textLength="76.0" lengthAdjust="spacingAndGlyphs">RSI(6):0.0000</text>
<text x="97.2" y="565.6" font-size="12" fill="#b05ad2" stroke="#b05ad2" stroke-width="0.25" textLength="82.7" lengthAdjust="spacingAndGlyphs">RSI(12):0.0000</text>
<text x="188.7" y="565.6" font-size="12" fill="#6cba6c" stroke="#6cba6c" stroke-width="0.25" textLength="83.8" lengthAdjust="spacingAndGlyphs">RSI(24):0.0000</text>
<g shape-rendering="crispEdges">
<line x1="5" y1="356.5" x2="678" y2="356.5" stroke="#111" stroke-width="1"/>
<line x1="5" y1="453.5" x2="678" y2="453.5" stroke="#111" stroke-width="1"/>
<line x1="5" y1="551.5" x2="678" y2="551.5" stroke="#111" stroke-width="1"/>
<line x1="5" y1="648.5" x2="626" y2="648.5" stroke="#c8c8c8" stroke-width="1"/>
<line x1="626" y1="648.5" x2="678" y2="648.5" stroke="#111" stroke-width="1"/>
<line x1="626.5" y1="35" x2="626.5" y2="671" stroke="#333" stroke-width="1"/>
</g>
<line x1="627" y1="39.5" x2="630" y2="39.5" stroke="#666" stroke-width="1" shape-rendering="crispEdges"/>
<text x="631.8" y="42.8" font-size="10" fill="#222" textLength="27.1" lengthAdjust="spacingAndGlyphs">0.9510</text>
<line x1="627" y1="83.5" x2="630" y2="83.5" stroke="#666" stroke-width="1" shape-rendering="crispEdges"/>
<text x="631.8" y="86.8" font-size="10" fill="#222" textLength="27.1" lengthAdjust="spacingAndGlyphs">0.9411</text>
<line x1="627" y1="127.5" x2="630" y2="127.5" stroke="#666" stroke-width="1" shape-rendering="crispEdges"/>
<text x="631.8" y="130.8" font-size="10" fill="#222" textLength="27.1" lengthAdjust="spacingAndGlyphs">0.9311</text>
<line x1="627" y1="171.5" x2="630" y2="171.5" stroke="#666" stroke-width="1" shape-rendering="crispEdges"/>
<text x="631.8" y="174.8" font-size="10" fill="#222" textLength="27.1" lengthAdjust="spacingAndGlyphs">0.9212</text>
<line x1="627" y1="216.5" x2="630" y2="216.5" stroke="#666" stroke-width="1" shape-rendering="crispEdges"/>
<text x="631.8" y="219.8" font-size="10" fill="#222" textLength="27.1" lengthAdjust="spacingAndGlyphs">0.9113</text>
<line x1="627" y1="260.5" x2="630" y2="260.5" stroke="#666" stroke-width="1" shape-rendering="crispEdges"/>
<text x="631.8" y="263.8" font-size="10" fill="#222" textLength="27.1" lengthAdjust="spacingAndGlyphs">0.9013</text>
<line x1="627" y1="304.5" x2="630" y2="304.5" stroke="#666" stroke-width="1" shape-rendering="crispEdges"/>
<text x="631.8" y="307.8" font-size="10" fill="#222" textLength="27.1" lengthAdjust="spacingAndGlyphs">0.8914</text>
<line x1="627" y1="348.5" x2="630" y2="348.5" stroke="#666" stroke-width="1" shape-rendering="crispEdges"/>
<text x="631.8" y="351.8" font-size="10" fill="#222" textLength="27.1" lengthAdjust="spacingAndGlyphs">0.8815</text>
<g clip-path="url(#cax)">
<svg x="0" y="357" width="680" height="96" overflow="hidden"><g transform="translate(0,-357)">
<line x1="627" y1="358.5" x2="630" y2="358.5" stroke="#666" stroke-width="1" shape-rendering="crispEdges"/>
<text x="631.8" y="361.3" font-size="10" fill="#666" textLength="27.1" lengthAdjust="spacingAndGlyphs">0.0116</text>
</g></svg>
<line x1="627" y1="402.5" x2="630" y2="402.5" stroke="#666" stroke-width="1" shape-rendering="crispEdges"/>
<text x="631.8" y="405.3" font-size="10" fill="#222" textLength="27.1" lengthAdjust="spacingAndGlyphs">0.0031</text>
<line x1="627" y1="445.5" x2="630" y2="445.5" stroke="#666" stroke-width="1" shape-rendering="crispEdges"/>
<text x="631.8" y="448.3" font-size="10" fill="#222" textLength="31.5" lengthAdjust="spacingAndGlyphs">-0.0054</text>
<svg x="0" y="454" width="680" height="97" overflow="hidden"><g transform="translate(0,-454)">
<line x1="627" y1="455.5" x2="630" y2="455.5" stroke="#666" stroke-width="1" shape-rendering="crispEdges"/>
<text x="631.8" y="458.3" font-size="10" fill="#666" textLength="36.0" lengthAdjust="spacingAndGlyphs">124.5136</text>
</g></svg>
<line x1="627" y1="499.5" x2="630" y2="499.5" stroke="#666" stroke-width="1" shape-rendering="crispEdges"/>
<text x="631.8" y="502.5" font-size="10" fill="#222" textLength="31.5" lengthAdjust="spacingAndGlyphs">64.9121</text>
<line x1="627" y1="543.5" x2="630" y2="543.5" stroke="#666" stroke-width="1" shape-rendering="crispEdges"/>
<text x="631.8" y="546.3" font-size="10" fill="#222" textLength="27.1" lengthAdjust="spacingAndGlyphs">5.3106</text>
<svg x="0" y="552" width="680" height="96" overflow="hidden"><g transform="translate(0,-552)">
<line x1="627" y1="553.5" x2="630" y2="553.5" stroke="#666" stroke-width="1" shape-rendering="crispEdges"/>
<text x="631.8" y="556.3" font-size="10" fill="#666" textLength="31.5" lengthAdjust="spacingAndGlyphs">98.4157</text>
</g></svg>
<line x1="627" y1="597.5" x2="630" y2="597.5" stroke="#666" stroke-width="1" shape-rendering="crispEdges"/>
<text x="631.8" y="600.3" font-size="10" fill="#222" textLength="31.5" lengthAdjust="spacingAndGlyphs">48.8677</text>
<line x1="627" y1="640.5" x2="630" y2="640.5" stroke="#666" stroke-width="1" shape-rendering="crispEdges"/>
<text x="631.8" y="643.3" font-size="10" fill="#222" textLength="31.5" lengthAdjust="spacingAndGlyphs">-0.6803</text>
</g>
<rect x="628" y="225" width="50" height="13" fill="#f01408"/>
<line x1="627" y1="231.5" x2="631" y2="231.5" stroke="#fff" stroke-width="1" shape-rendering="crispEdges"/>
<text x="631.3" y="235.1" font-size="10" fill="#fff" textLength="27.1" lengthAdjust="spacingAndGlyphs">0.9077</text>
<line x1="6.5" y1="649" x2="6.5" y2="651" stroke="#999" stroke-width="1" shape-rendering="crispEdges"/>
<line x1="213.5" y1="649" x2="213.5" y2="651" stroke="#999" stroke-width="1" shape-rendering="crispEdges"/>
<line x1="393.5" y1="649" x2="393.5" y2="651" stroke="#999" stroke-width="1" shape-rendering="crispEdges"/>
<svg x="5" y="649" width="621" height="22" overflow="hidden">
<text x="2.5" y="11.3" font-size="10" text-anchor="middle" fill="#222">3月</text>
<text x="210" y="11.3" font-size="10" text-anchor="middle" fill="#222">4月</text>
<text x="390" y="11.3" font-size="10" text-anchor="middle" fill="#222">5月</text>
</svg>
</svg></body></html>
